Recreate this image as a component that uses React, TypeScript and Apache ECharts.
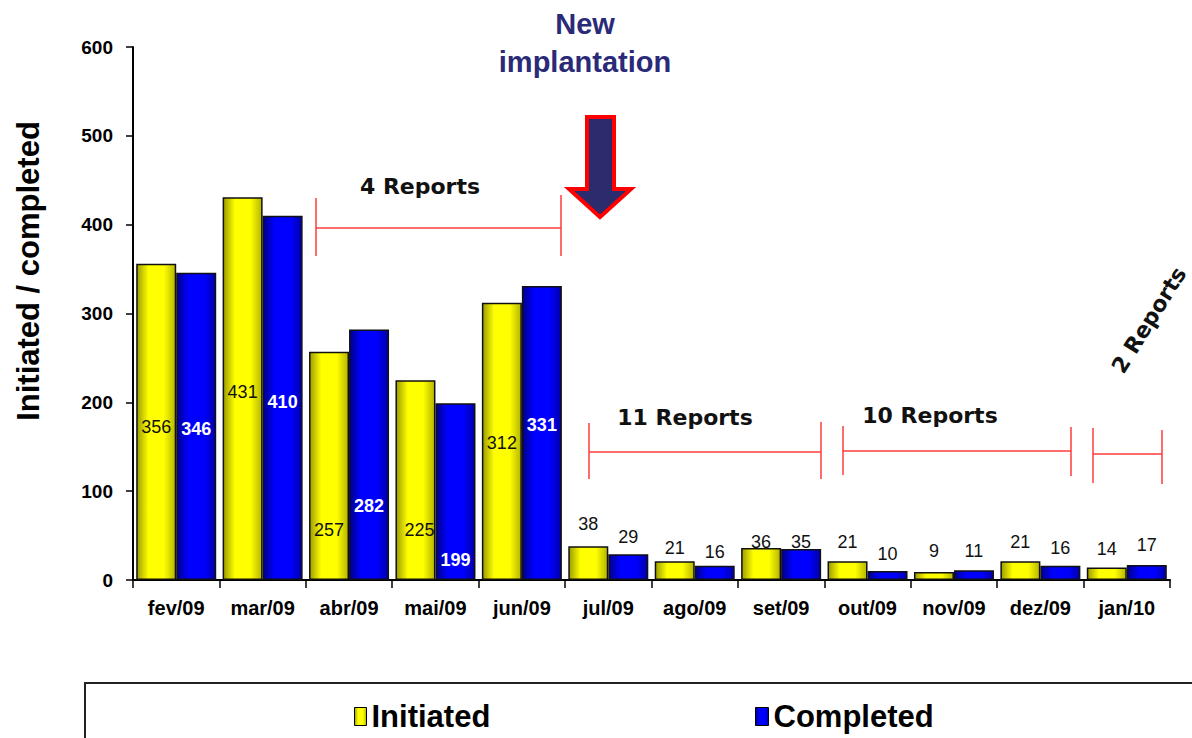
import React, { useEffect, useRef } from "react";
import * as echarts from "echarts";

const categories = ["fev/09", "mar/09", "abr/09", "mai/09", "jun/09", "jul/09", "ago/09", "set/09", "out/09", "nov/09", "dez/09", "jan/10"];
const initiated = [356, 431, 257, 225, 312, 38, 21, 36, 21, 9, 21, 14];
const completed = [346, 410, 282, 199, 331, 29, 16, 35, 10, 11, 16, 17];
const yMin = 0;
const yMax = 600;
const yStep = 100;

// label vertical nudges (styling, as in the original manual placement)
const initLabelDy = [5, 3, 64, 50, 2, -39, -23, -22, -29, -25, -29, -25];
const compLabelDy = [3, 4, 51, 68, -8, -30, -21, -22, -22, -24, -25, -27];

const FONT = "Liberation Sans";
const RED = "#ff3b3b";

const yellowFill = new echarts.graphic.LinearGradient(0, 0, 1, 0, [
  { offset: 0, color: "#9c9c00" },
  { offset: 0.3, color: "#ffff00" },
  { offset: 0.7, color: "#ffff00" },
  { offset: 1, color: "#b5b500" },
]);
const blueFill = new echarts.graphic.LinearGradient(0, 0, 1, 0, [
  { offset: 0, color: "#00008c" },
  { offset: 0.3, color: "#0000ff" },
  { offset: 0.7, color: "#0000ff" },
  { offset: 1, color: "#0000a8" },
]);

function bracket(x1: number, x2: number, yTop1: number, yBot1: number, yTop2: number, yBot2: number, yMid: number) {
  const st = { stroke: RED, lineWidth: 1.5 };
  return [
    { type: "line", shape: { x1, y1: yTop1, x2: x1, y2: yBot1 }, style: st },
    { type: "line", shape: { x1: x2, y1: yTop2, x2, y2: yBot2 }, style: st },
    { type: "line", shape: { x1, y1: yMid, x2, y2: yMid }, style: st },
  ];
}

function reportText(text: string, x: number, y: number, rotation = 0) {
  return {
    type: "text",
    x,
    y,
    rotation,
    style: {
      text,
      fill: "#111",
      font: "bold 22px 'DejaVu Sans'",
      align: "center",
      verticalAlign: "middle",
    },
  };
}

export default function App() {
  const ref = useRef<HTMLDivElement>(null);

  useEffect(() => {
    if (!ref.current) return;
    const chart = echarts.init(ref.current, null, { renderer: "svg" });

    const initData = initiated.map((v, i) => ({
      value: v,
      label: {
        offset: [i === 3 ? 4 : 0, initLabelDy[i]],
        color: "#111",
        fontWeight: "normal",
      },
    }));
    const compData = completed.map((v, i) => ({
      value: v,
      label: {
        offset: [0, compLabelDy[i]],
        color: v > 100 ? "#ffffff" : "#111",
        fontWeight: v > 100 ? "bold" : "normal",
      },
    }));

    const option: any = {
      animation: false,
      backgroundColor: "#ffffff",
      textStyle: { fontFamily: FONT },
      grid: { left: 133, right: 22, top: 47, bottom: 158, containLabel: false },
      xAxis: {
        type: "category",
        data: categories,
        boundaryGap: true,
        axisLine: { lineStyle: { color: "#000", width: 2 } },
        axisTick: { show: true, interval: 0, alignWithLabel: false, length: 8, lineStyle: { color: "#000", width: 1.5 } },
        axisLabel: { interval: 0, color: "#000", fontWeight: "bold", fontSize: 20, fontFamily: FONT, margin: 18 },
        splitLine: { show: false },
      },
      yAxis: {
        type: "value",
        min: yMin,
        max: yMax,
        interval: yStep,
        axisLine: { show: true, lineStyle: { color: "#000", width: 2 } },
        axisTick: { show: true, length: 7, lineStyle: { color: "#000", width: 1.5 } },
        axisLabel: { color: "#000", fontWeight: "bold", fontSize: 19, fontFamily: FONT, margin: 20 },
        splitLine: { show: false },
      },
      legend: [
        {
          data: ["Initiated"],
          left: 349,
          top: 696,
          itemWidth: 12,
          itemHeight: 18,
          icon: "rect",
          itemStyle: { borderColor: "#000", borderWidth: 1 },
          textStyle: { fontSize: 31, fontWeight: "bold", color: "#000", fontFamily: FONT },
          selectedMode: false,
        },
        {
          data: ["Completed"],
          left: 750,
          top: 696,
          itemWidth: 13,
          itemHeight: 18,
          icon: "rect",
          itemStyle: { borderColor: "#000", borderWidth: 1 },
          textStyle: { fontSize: 31, fontWeight: "bold", color: "#000", fontFamily: FONT },
          selectedMode: false,
        },
      ],
      series: [
        {
          name: "Initiated",
          type: "bar",
          data: initData,
          barWidth: 40,
          barGap: "0%",
          itemStyle: { color: yellowFill, borderColor: "#111", borderWidth: 1.5 },
          label: {
            show: true,
            position: "inside",
            fontSize: 18,
            fontFamily: FONT,
          },
        },
        {
          name: "Completed",
          type: "bar",
          data: compData,
          barWidth: 40,
          barGap: "0%",
          itemStyle: { color: blueFill, borderColor: "#111", borderWidth: 1.5 },
          label: {
            show: true,
            position: "inside",
            fontSize: 18,
            fontFamily: FONT,
          },
        },
      ],
      graphic: [
        // y axis title
        {
          type: "text",
          x: 28,
          y: 271,
          rotation: Math.PI / 2,
          style: {
            text: "Initiated / completed",
            fill: "#000",
            font: `bold 31px '${FONT}'`,
            align: "center",
            verticalAlign: "middle",
          },
        },
        // New implantation
        {
          type: "text",
          x: 585,
          y: 24,
          style: { text: "New", fill: "#2a2a78", font: `bold 29px '${FONT}'`, align: "center", verticalAlign: "middle" },
        },
        {
          type: "text",
          x: 585,
          y: 62,
          style: { text: "implantation", fill: "#2a2a78", font: `bold 29px '${FONT}'`, align: "center", verticalAlign: "middle" },
        },
        // arrow
        {
          type: "polygon",
          shape: {
            points: [
              [587, 117],
              [614, 117],
              [614, 189],
              [631, 189],
              [600, 217],
              [569, 189],
              [587, 189],
            ],
          },
          style: { fill: "#2b2b6e", stroke: "#ff0000", lineWidth: 4, lineJoin: "miter" },
        },
        // brackets
        ...bracket(316, 561, 198, 256, 195, 256, 228),
        reportText("4 Reports", 420, 186),
        ...bracket(589, 821, 423, 479, 422, 479, 452),
        reportText("11 Reports", 685, 417),
        ...bracket(843, 1071, 426, 475, 427, 476, 451),
        reportText("10 Reports", 930, 415),
        ...bracket(1093, 1162, 428, 483, 430, 484, 454),
        reportText("2 Reports", 1149, 320, (58 * Math.PI) / 180),
        // legend box
        {
          type: "rect",
          shape: { x: 85, y: 683, width: 1200, height: 100 },
          style: { fill: "none", stroke: "#222", lineWidth: 2 },
          z: -1,
        },
      ],
    };

    chart.setOption(option);
    return () => chart.dispose();
  }, []);

  return (
    <div
      ref={ref}
      style={{ position: "fixed", left: 0, top: 0, width: 1192, height: 738, background: "#fff" }}
    />
  );
}
